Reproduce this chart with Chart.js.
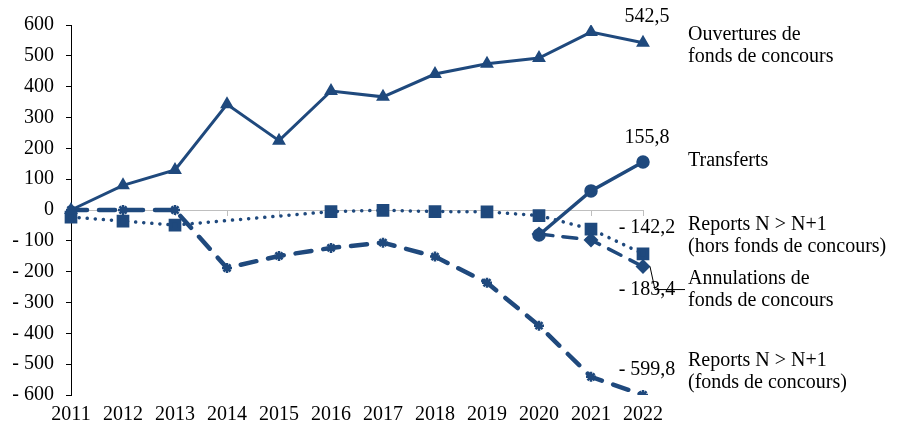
<!DOCTYPE html>
<html>
<head>
<meta charset="utf-8">
<script src="https://cdn.jsdelivr.net/npm/chart.js@4"></script>
<style>
html, body { margin: 0; padding: 0; background: #fff; }
</style>
</head>
<body>
<canvas id="myChart" width="906" height="434"></canvas>
<script>
const years = ['2011', '2012', '2013', '2014', '2015', '2016', '2017', '2018', '2019', '2020', '2021', '2022'];

const ouvertures = [0, 80, 130, 343, 225, 386, 367, 441, 474, 493, 577, 542.5];
const transferts = [null, null, null, null, null, null, null, null, null, -81, 62, 155.8];
const reportsHors = [-23, -36, -49, null, null, -5, -1, -5, -6, -18, -62, -142.2];
const annulations = [null, null, null, null, null, null, null, null, null, -78, -97, -183.4];
const reportsFdc = [0, 0, 0, -188, -149, -123, -106, -151, -236, -375, -541, -599.8];

const seriesNames = [
    ['Ouvertures de', 'fonds de concours'],
    ['Transferts'],
    ['Reports N > N+1', '(hors fonds de concours)'],
    ['Annulations de', 'fonds de concours'],
    ['Reports N > N+1', '(fonds de concours)']
];

const blue = '#1F497D';
const fontFamily = '"Liberation Serif", "Times New Roman", serif';

Chart.defaults.font.family = fontFamily;
Chart.defaults.font.size = 20;
Chart.defaults.color = '#000';

function fmt(v) {
    const s = String(Math.abs(v)).replace('.', ',');
    return v < 0 ? '- ' + s : s;
}

// zero line with little tick marks under each year
const zeroLine = {
    id: 'zeroLine',
    beforeDatasetsDraw(chart) {
        const ctx = chart.ctx;
        const x = chart.scales.x;
        const y0 = chart.scales.y.getPixelForValue(0);
        ctx.save();
        ctx.strokeStyle = '#BFBFBF';
        ctx.lineWidth = 1;
        ctx.beginPath();
        ctx.moveTo(chart.chartArea.left, y0 + 0.5);
        ctx.lineTo(chart.chartArea.right, y0 + 0.5);
        years.forEach((yr, i) => {
            const px = Math.round(x.getPixelForValue(i)) + 0.5;
            ctx.moveTo(px, y0);
            ctx.lineTo(px, y0 + 6);
        });
        ctx.stroke();
        ctx.restore();
    }
};

// end values + series names on the right
const endLabels = {
    id: 'endLabels',
    afterDatasetsDraw(chart) {
        const ctx = chart.ctx;
        const last = years.length - 1;
        const xs = chart.scales.x;
        const ys = chart.scales.y;
        const px = xs.getPixelForValue(last);
        const offsets = [-26, -24, -26, 23, -25];
        const nameY = [35, 161, 225, 279, 361];

        ctx.save();
        ctx.fillStyle = '#000';
        ctx.font = '20px ' + fontFamily;
        ctx.textBaseline = 'middle';

        chart.data.datasets.forEach((ds, i) => {
            const v = ds.data[last];
            const py = ys.getPixelForValue(v);
            ctx.textAlign = 'center';
            ctx.fillText(fmt(v), px + 4, py + offsets[i]);

            ctx.textAlign = 'left';
            seriesNames[i].forEach((line, k) => {
                ctx.fillText(line, 688, nameY[i] + k * 22);
            });
        });

        // leader line for annulations
        const py = ys.getPixelForValue(annulations[last]);
        ctx.strokeStyle = '#000';
        ctx.lineWidth = 1;
        ctx.beginPath();
        ctx.moveTo(px + 7, py);
        ctx.lineTo(px + 12, py + 23);
        ctx.lineTo(px + 42, py + 23);
        ctx.stroke();
        ctx.restore();
    }
};

const data = {
    labels: years,
    datasets: [{
        label: 'Ouvertures de fonds de concours',
        data: ouvertures,
        borderColor: blue,
        backgroundColor: blue,
        borderWidth: 3,
        pointStyle: 'triangle',
        pointRadius: 5,
        order: 2
    }, {
        label: 'Transferts',
        data: transferts,
        borderColor: blue,
        backgroundColor: blue,
        borderWidth: 3.5,
        pointStyle: 'circle',
        pointRadius: 5,
        order: 0
    }, {
        label: 'Reports N > N+1 (hors fonds de concours)',
        data: reportsHors,
        borderColor: blue,
        backgroundColor: blue,
        borderWidth: 3.5,
        borderDash: [0.1, 8],
        borderCapStyle: 'round',
        spanGaps: true,
        pointStyle: 'rect',
        pointRadius: 6.5,
        order: 3
    }, {
        label: 'Annulations de fonds de concours',
        data: annulations,
        borderColor: blue,
        backgroundColor: blue,
        borderWidth: 3.5,
        borderDash: [14, 10],
        borderCapStyle: 'round',
        pointStyle: 'rectRot',
        pointRadius: 5,
        order: 1
    }, {
        label: 'Reports N > N+1 (fonds de concours)',
        data: reportsFdc,
        borderColor: blue,
        backgroundColor: blue,
        borderWidth: 4.5,
        borderDash: [16, 12],
        borderCapStyle: 'round',
        pointStyle: 'star',
        pointRadius: 5,
        pointBorderWidth: 2.5,
        order: 4
    }]
};

const config = {
    type: 'line',
    data: data,
    options: {
        responsive: false,
        animation: false,
        layout: { padding: { top: 25, right: 263, left: 0, bottom: 0 } },
        plugins: { legend: { display: false }, tooltip: { enabled: false } },
        scales: {
            x: {
                offset: false,
                grid: { display: false },
                border: { display: false },
                ticks: { padding: 0, maxRotation: 0, autoSkip: false },
                afterFit(scale) { scale.height = 39; }
            },
            y: {
                min: -600,
                max: 600,
                ticks: { stepSize: 100, padding: 12, callback: v => fmt(v) },
                grid: { drawOnChartArea: false, color: '#000', tickLength: 5 },
                border: { color: '#000', width: 1 },
                afterFit(scale) { scale.width = 71; }
            }
        }
    },
    plugins: [zeroLine, endLabels]
};

const myChart = new Chart(
    document.getElementById('myChart'),
    config
);
</script>
</body>
</html>
